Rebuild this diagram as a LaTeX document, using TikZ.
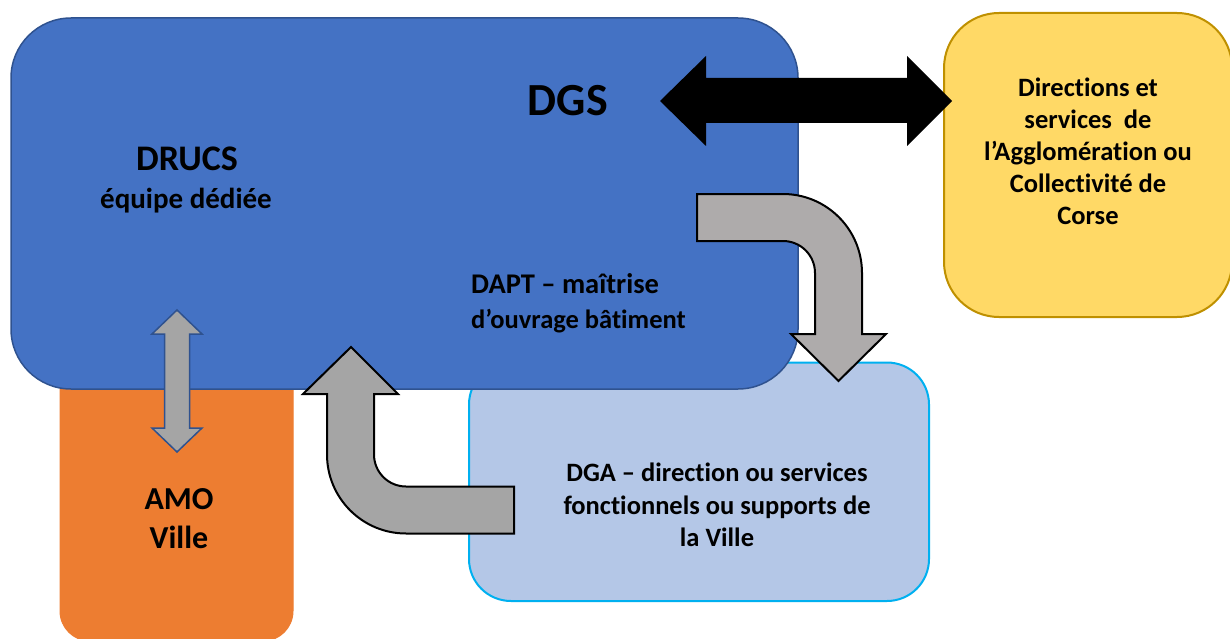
\documentclass[tikz,border=0pt]{standalone}
\usepackage{fontspec}
\setmainfont{Carlito}[Ligatures=NoCommon]
\definecolor{bluefill}{HTML}{4472C4}
\definecolor{blueline}{HTML}{2F528F}
\definecolor{dgafill}{HTML}{B4C7E7}
\definecolor{dgaline}{HTML}{00B0F0}
\definecolor{yelfill}{HTML}{FFD966}
\definecolor{yelline}{HTML}{BF9000}
\definecolor{amofill}{HTML}{ED7D31}
\definecolor{grayA}{HTML}{AEABAB}
\definecolor{grayB}{HTML}{A5A5A5}
\begin{document}
\begin{tikzpicture}[x=1pt,y=-1pt,
  box/.style={inner sep=0pt, outer sep=0pt},
  lbl/.style={inner sep=0pt, align=center},
  bentarrow/.style={draw=black, line width=2pt, line join=miter},
  fs/.style n args={2}{font=\bfseries\fontsize{#1}{#2}\selectfont}
]
\useasboundingbox (0,0) rectangle (1230,639);
% boxes
\node[box, fill=amofill, draw=amofill, line width=1pt, rounded corners=30pt,
      minimum width=233pt, minimum height=341pt] (amo) at (176.5,470.5) {};
\node[box, fill=dgafill, draw=dgaline, line width=2pt, rounded corners=42pt,
      minimum width=460pt, minimum height=238.5pt] (dga) at (699,481.75) {};
\node[box, fill=bluefill, draw=blueline, line width=1.5pt, rounded corners=60pt,
      minimum width=787pt, minimum height=371pt] (drucs) at (404.5,203.5) {};
\node[box, fill=yelfill, draw=yelline, line width=2pt, rounded corners=55pt,
      minimum width=288pt, minimum height=304pt] (agglo) at (1088,165) {};
% black double arrow
\fill[black] (660,101) -- (706,56) -- (706,78) -- (907,78) -- (907,56) -- (952,101)
  -- (907,146) -- (907,123) -- (706,123) -- (706,146) -- cycle;
% bent arrow DAPT -> DGA
\filldraw[bentarrow, fill=grayA] (697,194) -- (783,194)
  .. controls (826.6,194) and (862,229.4) .. (862,273) -- (862,334) -- (886,334)
  -- (838.5,381) -- (791,334) -- (815,334) -- (815,273)
  .. controls (815,255.3) and (800.7,241) .. (783,241) -- (697,241) -- cycle;
% bent arrow DGA -> DAPT
\filldraw[bentarrow, fill=grayB] (351,347) -- (398,394) -- (374,394) -- (374,454.5)
  .. controls (374,472.2) and (388.3,486.5) .. (406,486.5) -- (514,486.5)
  -- (514,533.5) -- (406,533.5)
  .. controls (362.4,533.5) and (327,498.1) .. (327,454.5) -- (327,394)
  -- (303,394) -- cycle;
% small vertical double arrow
\filldraw[fill=grayB, draw=blueline, line width=1.5pt] (177,310) -- (202,334) -- (189.5,334)
  -- (189.5,428) -- (202,428) -- (177,452) -- (152,428) -- (164.5,428) -- (164.5,334)
  -- (152,334) -- cycle;
% texts
\node[lbl, fs={46}{55}] (tdgs) at (568,101) {DGS};
\node[lbl, fs={36}{43}, anchor=base] (tdrucs) at (187,171) {DRUCS};
\node[lbl, fs={29}{35}, anchor=base] (tequipe) at (186,208) {équipe dédiée};
\node[lbl, fs={26.5}{35}, align=left, anchor=west] (tdapt) at (471,303)
  {{\fontsize{28.5}{35}\selectfont DAPT – maîtrise}\\d’ouvrage bâtiment};
\node[lbl, fs={26.5}{32.5}] (tdga) at (717,505)
  {DGA – direction ou services\\fonctionnels ou supports de\\la Ville};
\node[lbl, fs={26.5}{32}] (tagglo) at (1088,151.5)
  {Directions et\\services\ \ de\\l’Agglomération ou\\Collectivité de\\Corse};
\node[lbl, fs={32}{39}] (tamo) at (179,519) {AMO\\Ville};
\end{tikzpicture}
\end{document}
